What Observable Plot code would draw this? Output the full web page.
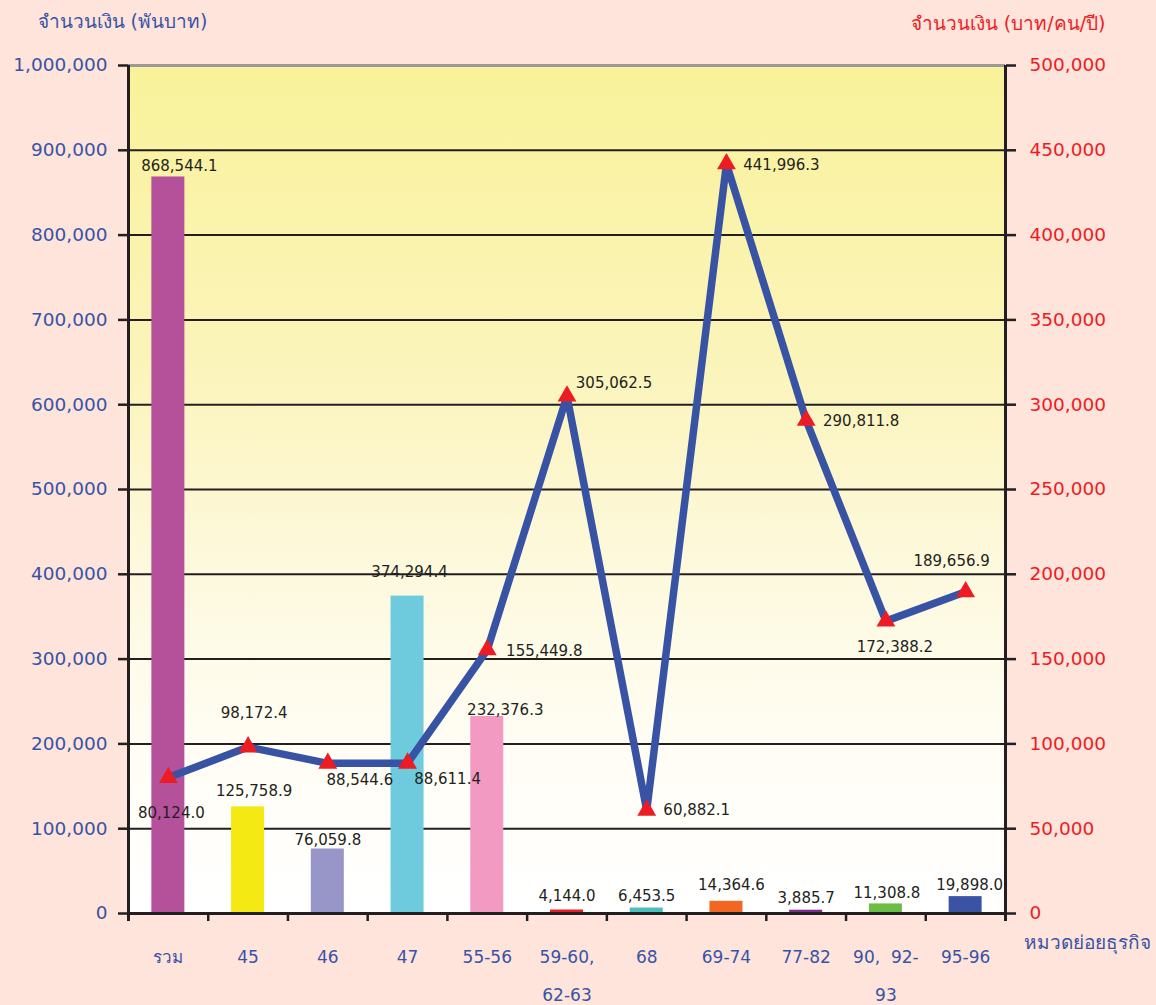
<!DOCTYPE html>
<html>
<head>
<meta charset="utf-8">
<script src="https://cdn.jsdelivr.net/npm/d3@7"></script>
<script src="https://cdn.jsdelivr.net/npm/@observablehq/plot@0.6"></script>
<style>
  html, body { margin: 0; padding: 0; background: #FEE4DA; }
  #chart { width: 1156px; height: 1005px; }
</style>
</head>
<body>
<div id="chart"></div>
<script>
// ---- data ----
const categories = ["รวม", "45", "46", "47", "55-56", "59-60, 62-63", "68", "69-74", "77-82", "90, 92-93", "95-96"];
const tickLabels = ["รวม", "45", "46", "47", "55-56", "59-60,\n62-63", "68", "69-74", "77-82", "90,  92-\n93", "95-96"];
const amounts = [868544.1, 125758.9, 76059.8, 374294.4, 232376.3, 4144.0, 6453.5, 14364.6, 3885.7, 11308.8, 19898.0];
const perPerson = [80124.0, 98172.4, 88544.6, 88611.4, 155449.8, 305062.5, 60882.1, 441996.3, 290811.8, 172388.2, 189656.9];
const barColors = ["#B5519B", "#F5E914", "#9896C8", "#6DCBDD", "#F39AC3", "#ED1C24", "#4BBFC0", "#F26522", "#7B2C8C", "#6BBD45", "#3A53A4"];
const leftTicks = [0, 100000, 200000, 300000, 400000, 500000, 600000, 700000, 800000, 900000, 1000000];
const leftMax = 1000000;
const rightMax = 500000;
const leftTitle = "จำนวนเงิน (พันบาท)";
const rightTitle = "จำนวนเงิน (บาท/คน/ปี)";
const xTitle = "หมวดย่อยธุรกิจ";

// ---- label placement (layout only, px) ----
const barLabelNudge = [[11, -11], [6, -16], [0, -9], [2, -24], [18, -6], [0, -14], [0, -12], [5, -16], [0, -12], [1, -11], [4, -11]];
const lineLabelNudge = [[3, 36], [6, -34], [32, 17], [40, 16], [57, 1], [47, -13], [50, 0], [55, 1], [55, 1], [9, 26], [-14, -31]];

// ---- layout ----
const W = 1156, H = 1005, mL = 128, mR = 151, mT = 65, mB = 92;
const step = (W - mL - mR) / categories.length;
const barW = 33;
const inset = (step - barW) / 2;
const ratio = leftMax / rightMax;
const tickLen = 8 * leftMax / (H - mT - mB);
const fmt1 = d3.format(",.1f");
const fmt0 = d3.format(",");
const ink = "#231F20";
const blue = "#3953A4";
const red = "#ED1C24";

const rows = categories.map((c, i) => ({
  cat: c, tick: tickLabels[i], amount: amounts[i], per: perPerson[i], color: barColors[i]
}));

const barLabels = rows.map((r, i) => Plot.text([r], {
  x: "cat", y: "amount", text: d => fmt1(d.amount),
  dx: barLabelNudge[i][0], dy: barLabelNudge[i][1],
  fill: ink, fontSize: 15, lineAnchor: "middle"
}));
const lineLabels = rows.map((r, i) => Plot.text([r], {
  x: "cat", y: d => d.per * ratio, text: d => fmt1(d.per),
  dx: lineLabelNudge[i][0], dy: lineLabelNudge[i][1],
  fill: ink, fontSize: 15, lineAnchor: "middle"
}));

const chart = Plot.plot({
  width: W, height: H,
  marginLeft: mL, marginRight: mR, marginTop: mT, marginBottom: mB,
  style: "background:#FEE4DA; font-family: Tahoma, 'DejaVu Sans', Verdana, sans-serif; overflow: visible;",
  x: { type: "band", domain: categories, padding: 0, round: false, axis: null },
  y: { domain: [0, leftMax] },
  color: { type: "identity" },
  marks: [
    Plot.frame({ fill: "url(#bgGrad)", stroke: "none" }),
    Plot.ruleY(leftTicks.filter(t => t > 0 && t < leftMax), { stroke: ink, strokeWidth: 2 }),
    Plot.ruleY([leftMax], { stroke: "#9a9a9a", strokeWidth: 3 }),
    Plot.barY(rows, { x: "cat", y: "amount", fill: "color", insetLeft: inset, insetRight: inset }),
    Plot.ruleY([0], { stroke: ink, strokeWidth: 3 }),
    // category boundary ticks
    Plot.ruleX(categories, { x: d => d, dx: -step / 2, y1: 0, y2: -tickLen, stroke: ink, strokeWidth: 2.5 }),
    Plot.ruleX([categories[categories.length - 1]], { x: d => d, dx: step / 2, y1: 0, y2: -tickLen, stroke: ink, strokeWidth: 2.5 }),
    // left & right axis lines
    Plot.ruleX([categories[0]], { x: d => d, dx: -step / 2, y1: -tickLen, y2: leftMax, stroke: ink, strokeWidth: 3 }),
    Plot.ruleX([categories[categories.length - 1]], { x: d => d, dx: step / 2, y1: -tickLen, y2: leftMax, stroke: ink, strokeWidth: 3 }),
    Plot.axisY({ anchor: "left", ticks: leftTicks, tickFormat: fmt0, tickSize: 10, tickPadding: 11,
      stroke: ink, strokeWidth: 2.5, fill: blue, fontSize: 18.5, label: null }),
    Plot.axisY({ anchor: "right", ticks: leftTicks, tickFormat: d => fmt0(d / ratio), tickSize: 10, tickPadding: 14,
      stroke: ink, strokeWidth: 2.5, fill: red, fontSize: 18.5, label: null }),
    Plot.line(rows, { x: "cat", y: d => d.per * ratio, stroke: blue, strokeWidth: 7.5, strokeLinejoin: "miter" }),
    Plot.dot(rows, { x: "cat", y: d => d.per * ratio, symbol: "triangle", r: 7, fill: red, stroke: "none" }),
    ...barLabels,
    ...lineLabels,
    Plot.text(rows, { x: "cat", text: "tick", frameAnchor: "bottom", lineAnchor: "top", dy: 22, lineHeight: 2.24,
      fill: blue, fontSize: 17 }),
    Plot.text([xTitle], { frameAnchor: "bottom-right", textAnchor: "start", lineAnchor: "middle", dx: 18, dy: 29,
      fill: blue, fontSize: 19 }),
    Plot.text([leftTitle], { frameAnchor: "top-left", textAnchor: "start", lineAnchor: "middle", dx: -91, dy: -44,
      fill: blue, fontSize: 19 }),
    Plot.text([rightTitle], { frameAnchor: "top-right", textAnchor: "end", lineAnchor: "middle", dx: 100, dy: -42,
      fill: red, fontSize: 19 })
  ]
});

d3.select(chart).insert("defs", ":first-child").html(
  `<linearGradient id="bgGrad" x1="0" y1="0" x2="0" y2="1">
     <stop offset="0" stop-color="#F9F29A"/>
     <stop offset="0.35" stop-color="#FBF4BA"/>
     <stop offset="0.6" stop-color="#FDF9DE"/>
     <stop offset="0.8" stop-color="#FFFDF4"/>
     <stop offset="1" stop-color="#FFFFFF"/>
   </linearGradient>`
);
document.getElementById("chart").appendChild(chart);
</script>
</body>
</html>
